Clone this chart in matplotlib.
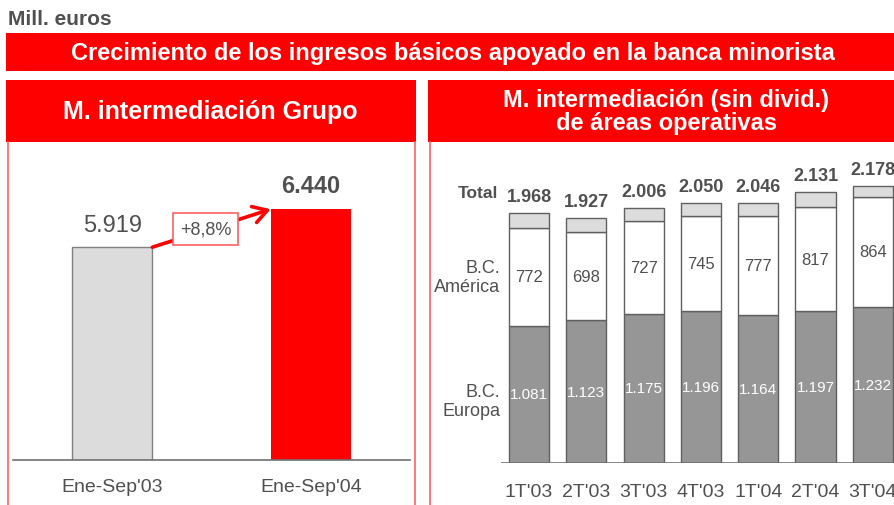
import matplotlib
matplotlib.use("Agg")
import matplotlib.pyplot as plt
from matplotlib.patches import Rectangle, FancyArrowPatch

plt.rcParams['font.family'] = ['Liberation Sans', 'DejaVu Sans']

# ---------------- data ----------------
left_categories = ["Ene-Sep'03", "Ene-Sep'04"]
left_values = [5919, 6440]
left_labels = ["5.919", "6.440"]
growth_label = "+8,8%"

quarters = ["1T'03", "2T'03", "3T'03", "4T'03", "1T'04", "2T'04", "3T'04"]
europa = [1081, 1123, 1175, 1196, 1164, 1197, 1232]
america = [772, 698, 727, 745, 777, 817, 864]
totals = [1968, 1927, 2006, 2050, 2046, 2131, 2178]
europa_labels = ["1.081", "1.123", "1.175", "1.196", "1.164", "1.197", "1.232"]
america_labels = ["772", "698", "727", "745", "777", "817", "864"]
total_labels = ["1.968", "1.927", "2.006", "2.050", "2.046", "2.131", "2.178"]
others = [t - e - a for t, e, a in zip(totals, europa, america)]

W, H = 894, 506
RED = "#FF0000"
PINK = "#FF6060"
TXT = "#505050"

fig = plt.figure(figsize=(W / 100, H / 100), dpi=100)

def px_axes(x0, y0, x1, y1, **kw):
    # pixel coords, y measured from top
    return fig.add_axes([x0 / W, 1 - y1 / H, (x1 - x0) / W, (y1 - y0) / H], **kw)

# background overlay
bg = px_axes(0, 0, W, H)
bg.set_xlim(0, W)
bg.set_ylim(H, 0)
bg.axis("off")

bg.text(8, 19, "Mill. euros", color=TXT, fontsize=15, fontweight="bold",
        ha="left", va="center")
bg.add_patch(Rectangle((6, 34), W - 6, 38, color=RED, lw=0))
bg.text(453, 53, "Crecimiento de los ingresos básicos apoyado en la banca minorista",
        color="white", fontsize=17, fontweight="bold", ha="center", va="center")

# left panel
bg.add_patch(Rectangle((6, 81), 409.5, 62, color=RED, lw=0))
bg.text(210, 112, "M. intermediación Grupo", color="white", fontsize=18,
        fontweight="bold", ha="center", va="center")
bg.plot([7.5, 7.5], [143, H], color=PINK, lw=1.2)
bg.plot([415, 415], [143, H], color=PINK, lw=1.2)

# right panel
bg.add_patch(Rectangle((427.5, 81), W - 427.5, 62, color=RED, lw=0))
bg.text(666, 112, "M. intermediación (sin divid.)\nde áreas operativas", color="white",
        fontsize=17, fontweight="bold", ha="center", va="center", linespacing=0.95)
bg.plot([430, 430], [143, H], color=PINK, lw=1.2)

# ---------------- left chart ----------------
axL = px_axes(13, 150, 410, 461)
axL.set_xlim(-0.5, 1.5)
axL.set_ylim(3000, 7266)
axL.axis("off")
axL.axhline(3000, color="#707070", lw=1.2, clip_on=False)
xs = [0, 1]
axL.bar(xs[0], left_values[0], width=0.404, bottom=0, color="#DCDCDC",
        edgecolor="#808080", lw=1)
axL.bar(xs[1], left_values[1], width=0.404, bottom=0, color=RED, lw=0)
axL.text(xs[0], left_values[0] + 300, left_labels[0], ha="center", va="center",
         fontsize=17, color=TXT)
axL.text(xs[1], left_values[1] + 320, left_labels[1], ha="center", va="center",
         fontsize=17, color=TXT, fontweight="bold")
for x, c in zip(xs, left_categories):
    axL.text(x, 3000 - 370, c, ha="center", va="center", fontsize=14, color=TXT,
             clip_on=False)
arr = FancyArrowPatch((xs[0] + 0.202, left_values[0]), (xs[1] - 0.202, left_values[1]),
                      arrowstyle="->,head_length=4,head_width=2.4", color=RED, lw=2.6,
                      mutation_scale=2.5, shrinkA=0, shrinkB=0)
axL.add_patch(arr)
axL.text(0.47, 6169, growth_label, ha="center", va="center", fontsize=13, color=TXT,
         bbox=dict(boxstyle="square,pad=0.4", fc="white", ec=PINK, lw=1.2))

# ---------------- right chart ----------------
axR = px_axes(501, 150, W, 464)
axR.set_xlim(-0.49, 6.37)
axR.set_ylim(0, 2472)
axR.axis("off")
axR.axhline(0, color="#707070", lw=1.2)
qx = list(range(len(quarters)))
bw = 0.70
axR.bar(qx, europa, width=bw, color="#969696", edgecolor="#606060", lw=1)
axR.bar(qx, america, width=bw, bottom=europa, color="white", edgecolor="#606060", lw=1)
bot2 = [e + a for e, a in zip(europa, america)]
axR.bar(qx, others, width=bw, bottom=bot2, color="#DCDCDC", edgecolor="#606060", lw=1)
for i in qx:
    axR.text(i, europa[i] / 2, europa_labels[i], ha="center", va="center",
             fontsize=11, color="white")
    axR.text(i, europa[i] + america[i] / 2, america_labels[i], ha="center",
             va="center", fontsize=12, color=TXT)
    axR.text(i, totals[i] + 130, total_labels[i], ha="center", va="center",
             fontsize=13, color=TXT, fontweight="bold")
    axR.text(i, -225, quarters[i], ha="center", va="center", fontsize=14,
             color=TXT, clip_on=False)

bg.text(498, 194, "Total", ha="right", va="center", fontsize=12.5,
        fontweight="bold", color=TXT)
bg.text(500, 278, "B.C.\nAmérica", ha="right", va="center", fontsize=13,
        color=TXT, linespacing=1.1)
bg.text(500, 402, "B.C.\nEuropa", ha="right", va="center", fontsize=13,
        color=TXT, linespacing=1.1)

fig.savefig("out.png", dpi=100)
